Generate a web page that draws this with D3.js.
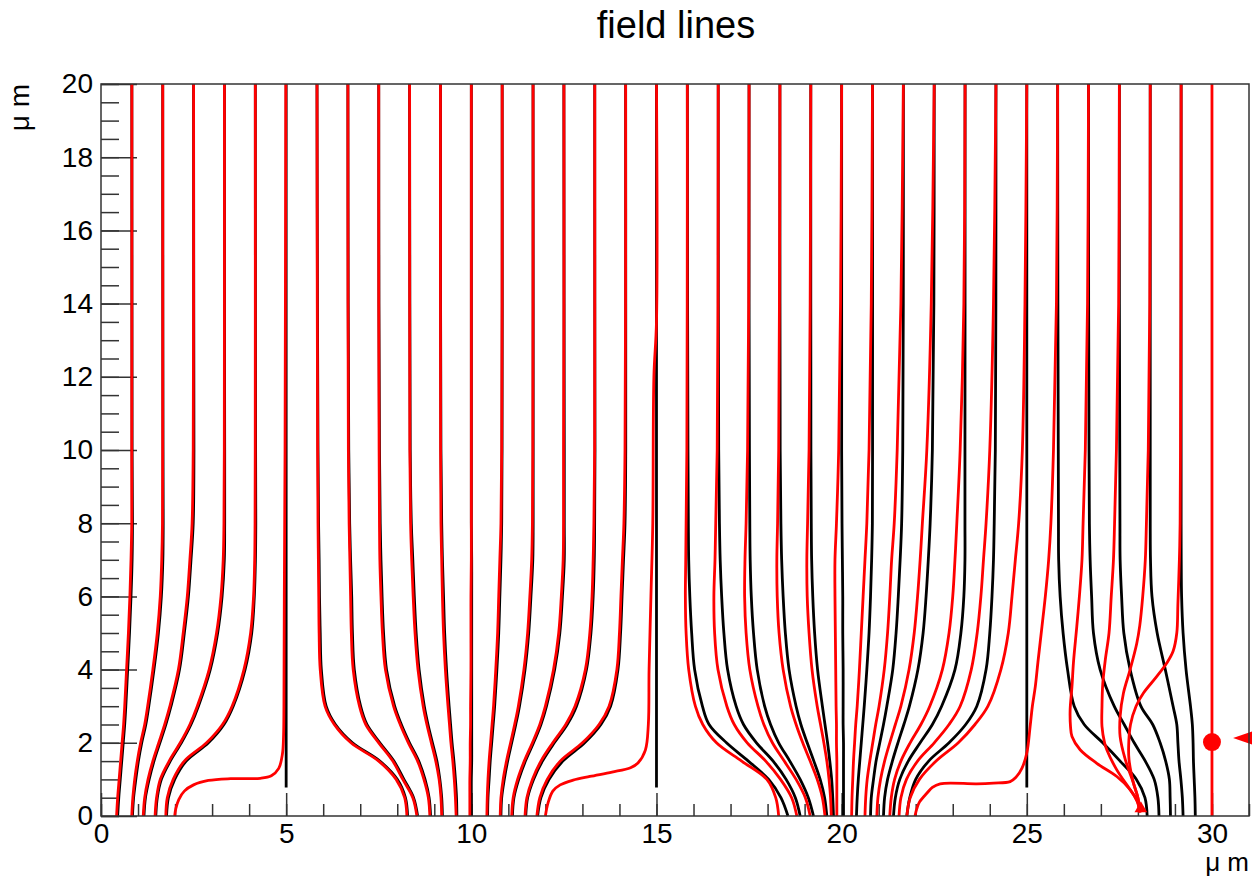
<!DOCTYPE html>
<html>
<head>
<meta charset="utf-8">
<script src="https://cdn.jsdelivr.net/npm/d3@7"></script>
<style>
  body { margin: 0; background: #fff; }
  svg { display: block; font-family: "Liberation Sans", Arial, Helvetica, sans-serif; }
</style>
</head>
<body>
<div id="vis-container"></div>
<script>
// Set dimensions and margins for the plot
const width = 1252;
const height = 878;
const margin = {left: 101, right: 3, top: 84, bottom: 62};

// tick values (um)
const xMajor = [0, 5, 10, 15, 20, 25, 30];
const xMinor = [0, 1, 2, 3, 4, 5, 6, 7, 8, 9, 10, 11, 12, 13, 14, 15, 16, 17, 18, 19, 20, 21, 22, 23, 24, 25, 26, 27, 28, 29, 30, 31];
const yMajor = [0, 2, 4, 6, 8, 10, 12, 14, 16, 18, 20];
const yMinor = [0, 0.5, 1, 1.5, 2, 2.5, 3, 3.5, 4, 4.5, 5, 5.5, 6, 6.5, 7, 7.5, 8, 8.5, 9, 9.5, 10,
                10.5, 11, 11.5, 12, 12.5, 13, 13.5, 14, 14.5, 15, 15.5, 16, 16.5, 17, 17.5, 18, 18.5, 19, 19.5, 20];

const yLevels = [20, 14, 10, 8, 7, 6, 5, 4, 3, 2.5, 2, 1.5, 1, 0.5, 0];

// black field lines: x at each yLevel
const blackX = [
  [0.833, 0.836, 0.84, 0.85, 0.84, 0.81, 0.77, 0.72, 0.67, 0.64, 0.6, 0.56, 0.52, 0.48, 0.45],
  [1.667, 1.67, 1.675, 1.68, 1.67, 1.63, 1.55, 1.43, 1.29, 1.21, 1.1, 1.01, 0.94, 0.88, 0.85],
  [2.5, 2.505, 2.51, 2.49, 2.43, 2.36, 2.25, 2.12, 1.89, 1.75, 1.59, 1.43, 1.3, 1.2, 1.16],
  [3.333, 3.335, 3.34, 3.34, 3.33, 3.27, 3.15, 2.95, 2.63, 2.43, 2.17, 1.87, 1.63, 1.52, 1.48],
  [4.167, 4.17, 4.175, 4.18, 4.17, 4.14, 4.07, 3.89, 3.57, 3.32, 2.9, 2.3, 1.99, 1.82, 1.77],
  [5.833, 5.845, 5.86, 5.875, 5.89, 5.9, 5.92, 5.95, 6.08, 6.33, 6.79, 7.53, 8.0, 8.22, 8.28],
  [6.667, 6.675, 6.69, 6.715, 6.74, 6.77, 6.79, 6.84, 7.01, 7.18, 7.53, 7.91, 8.18, 8.44, 8.55],
  [7.5, 7.505, 7.52, 7.54, 7.56, 7.59, 7.63, 7.71, 7.93, 8.11, 8.33, 8.58, 8.75, 8.86, 8.9],
  [8.333, 8.34, 8.35, 8.38, 8.42, 8.46, 8.51, 8.59, 8.73, 8.83, 8.95, 9.07, 9.15, 9.2, 9.22],
  [9.167, 9.17, 9.18, 9.2, 9.22, 9.25, 9.28, 9.33, 9.4, 9.44, 9.48, 9.53, 9.57, 9.6, 9.61],
  [10, 10, 10, 10, 10.01, 10.01, 10.01, 10.01, 10.01, 10.01, 10.01, 10.01, 10.0, 10.0, 10.0],
  [10.833, 10.835, 10.83, 10.82, 10.8, 10.77, 10.74, 10.69, 10.63, 10.59, 10.55, 10.51, 10.48, 10.45, 10.44],
  [11.667, 11.67, 11.67, 11.67, 11.66, 11.61, 11.55, 11.45, 11.3, 11.2, 11.09, 10.98, 10.89, 10.82, 10.8],
  [12.5, 12.505, 12.51, 12.51, 12.51, 12.46, 12.39, 12.25, 12.03, 11.88, 11.68, 11.46, 11.28, 11.15, 11.11],
  [13.333, 13.335, 13.34, 13.33, 13.32, 13.29, 13.23, 13.11, 12.84, 12.59, 12.24, 11.92, 11.68, 11.52, 11.47],
  [14.167, 14.17, 14.17, 14.15, 14.11, 14.07, 14.03, 13.96, 13.76, 13.5, 13.06, 12.47, 12.1, 11.88, 11.79],
  [15.833, 15.84, 15.85, 15.86, 15.87, 15.9, 15.95, 16.03, 16.24, 16.42, 16.89, 17.48, 18.03, 18.36, 18.55],
  [16.667, 16.67, 16.68, 16.7, 16.72, 16.76, 16.82, 16.92, 17.15, 17.35, 17.7, 18.15, 18.5, 18.75, 18.88],
  [17.5, 17.5, 17.51, 17.52, 17.53, 17.56, 17.62, 17.72, 17.92, 18.08, 18.3, 18.6, 18.88, 19.1, 19.24],
  [18.333, 18.335, 18.34, 18.36, 18.38, 18.42, 18.48, 18.58, 18.77, 18.9, 19.07, 19.25, 19.42, 19.54, 19.6],
  [19.167, 19.167, 19.17, 19.18, 19.19, 19.22, 19.27, 19.35, 19.48, 19.55, 19.62, 19.68, 19.73, 19.76, 19.78],
  [20, 20, 20, 20.01, 20.02, 20.03, 20.03, 20.04, 20.04, 20.04, 20.05, 20.05, 20.05, 20.05, 20.05],
  [20.833, 20.835, 20.835, 20.83, 20.81, 20.78, 20.74, 20.68, 20.61, 20.57, 20.53, 20.49, 20.45, 20.42, 20.4],
  [21.667, 21.665, 21.65, 21.62, 21.58, 21.53, 21.47, 21.38, 21.22, 21.13, 21.03, 20.93, 20.86, 20.8, 20.78],
  [22.5, 22.49, 22.45, 22.39, 22.34, 22.28, 22.2, 22.06, 21.83, 21.68, 21.52, 21.37, 21.24, 21.16, 21.13],
  [23.333, 23.333, 23.33, 23.33, 23.33, 23.3, 23.22, 23.06, 22.7, 22.45, 22.12, 21.8, 21.57, 21.45, 21.4],
  [24.167, 24.165, 24.15, 24.12, 24.1, 24.06, 24.0, 23.9, 23.65, 23.35, 22.9, 22.35, 22.0, 21.84, 21.76],
  [25.833, 25.84, 25.85, 25.855, 25.86, 25.9, 25.98, 26.1, 26.28, 26.55, 27.05, 27.52, 27.96, 28.19, 28.25],
  [26.667, 26.67, 26.68, 26.69, 26.71, 26.75, 26.8, 26.98, 27.36, 27.63, 27.9, 28.2, 28.44, 28.54, 28.57],
  [27.5, 27.5, 27.51, 27.515, 27.52, 27.56, 27.62, 27.79, 28.08, 28.4, 28.6, 28.75, 28.85, 28.87, 28.88],
  [28.333, 28.333, 28.333, 28.333, 28.34, 28.38, 28.52, 28.74, 28.95, 29.05, 29.08, 29.11, 29.16, 29.2, 29.22],
  [29.167, 29.167, 29.167, 29.167, 29.17, 29.18, 29.22, 29.3, 29.42, 29.47, 29.49, 29.5, 29.52, 29.54, 29.55]
];

// black lines that run straight down and stop above the bottom
const blackStubs = [
  [[5, 20], [5, 0.78]],
  [[15, 20], [15, 0.78]],
  [[25, 20], [25, 0.78]]
];

// red field lines: x at each yLevel
const redX = [
  [0.833, 0.833, 0.83, 0.83, 0.81, 0.78, 0.74, 0.69, 0.64, 0.61, 0.57, 0.53, 0.49, 0.45, 0.42],
  [1.667, 1.667, 1.665, 1.66, 1.64, 1.6, 1.52, 1.4, 1.26, 1.18, 1.07, 0.98, 0.91, 0.86, 0.83],
  [2.5, 2.5, 2.49, 2.46, 2.4, 2.33, 2.22, 2.09, 1.86, 1.72, 1.56, 1.4, 1.27, 1.18, 1.14],
  [3.333, 3.333, 3.33, 3.32, 3.3, 3.24, 3.12, 2.92, 2.6, 2.4, 2.14, 1.84, 1.6, 1.5, 1.46],
  [4.167, 4.167, 4.165, 4.16, 4.15, 4.12, 4.04, 3.86, 3.54, 3.28, 2.85, 2.25, 1.95, 1.79, 1.75],
  [5.833, 5.84, 5.85, 5.86, 5.87, 5.88, 5.89, 5.92, 6.05, 6.3, 6.75, 7.5, 7.97, 8.2, 8.26],
  [6.667, 6.67, 6.68, 6.7, 6.72, 6.74, 6.76, 6.81, 6.98, 7.15, 7.5, 7.88, 8.15, 8.42, 8.53],
  [7.5, 7.5, 7.51, 7.52, 7.53, 7.56, 7.6, 7.68, 7.9, 8.08, 8.3, 8.55, 8.72, 8.84, 8.88],
  [8.333, 8.335, 8.34, 8.36, 8.39, 8.43, 8.48, 8.56, 8.7, 8.8, 8.92, 9.04, 9.13, 9.18, 9.2],
  [9.167, 9.167, 9.17, 9.18, 9.2, 9.22, 9.25, 9.3, 9.37, 9.41, 9.45, 9.5, 9.54, 9.57, 9.59],
  [10, 10, 10, 10, 10, 9.99, 9.99, 9.99, 9.98, 9.98, 9.97, 9.97, 9.96, 9.96, 9.96],
  [10.833, 10.83, 10.82, 10.8, 10.77, 10.74, 10.71, 10.66, 10.6, 10.56, 10.52, 10.48, 10.45, 10.43, 10.42],
  [11.667, 11.665, 11.66, 11.65, 11.63, 11.58, 11.52, 11.42, 11.27, 11.17, 11.06, 10.95, 10.86, 10.8, 10.78],
  [12.5, 12.5, 12.49, 12.49, 12.48, 12.43, 12.36, 12.22, 12.0, 11.85, 11.65, 11.43, 11.25, 11.13, 11.09],
  [13.333, 13.333, 13.33, 13.31, 13.29, 13.26, 13.2, 13.08, 12.8, 12.55, 12.2, 11.88, 11.65, 11.5, 11.45],
  [14.167, 14.165, 14.15, 14.12, 14.08, 14.04, 14.0, 13.93, 13.72, 13.45, 13.0, 12.4, 12.05, 11.85, 11.77],
  [15.833, 15.83, 15.82, 15.8, 15.79, 15.78, 15.8, 15.87, 16.05, 16.25, 16.62, 17.3, 17.98, 18.22, 18.3],
  [16.667, 16.66, 16.64, 16.6, 16.58, 16.55, 16.57, 16.66, 16.9, 17.1, 17.45, 17.95, 18.35, 18.65, 18.79],
  [17.5, 17.49, 17.46, 17.42, 17.39, 17.38, 17.42, 17.52, 17.74, 17.9, 18.13, 18.45, 18.77, 19.02, 19.15],
  [18.333, 18.32, 18.3, 18.27, 18.25, 18.26, 18.31, 18.42, 18.62, 18.77, 18.95, 19.15, 19.34, 19.48, 19.55],
  [19.167, 19.15, 19.12, 19.08, 19.06, 19.07, 19.12, 19.2, 19.34, 19.43, 19.52, 19.6, 19.66, 19.7, 19.72],
  [20, 19.97, 19.92, 19.86, 19.82, 19.82, 19.83, 19.84, 19.85, 19.86, 19.86, 19.87, 19.87, 19.87, 19.87],
  [20.833, 20.8, 20.74, 20.68, 20.63, 20.58, 20.53, 20.48, 20.42, 20.38, 20.35, 20.32, 20.3, 20.28, 20.27],
  [21.667, 21.6, 21.5, 21.42, 21.35, 21.3, 21.24, 21.15, 21.01, 20.92, 20.84, 20.76, 20.69, 20.65, 20.63],
  [22.5, 22.42, 22.3, 22.18, 22.12, 22.05, 21.96, 21.82, 21.6, 21.45, 21.3, 21.16, 21.05, 20.98, 20.95],
  [23.333, 23.3, 23.2, 23.11, 23.06, 23.0, 22.9, 22.72, 22.38, 22.14, 21.85, 21.6, 21.43, 21.34, 21.3],
  [24.167, 24.1, 24.0, 23.9, 23.83, 23.76, 23.66, 23.5, 23.2, 22.9, 22.5, 22.05, 21.75, 21.6, 21.55],
  [25, 24.95, 24.88, 24.78, 24.69, 24.6, 24.5, 24.3, 23.95, 23.6, 23.15, 22.55, 22.1, 21.85, 21.76]
];

// red lines that bend sideways (x,y pairs, top to bottom)
const redCurves = [
  [[4.99, 20], [4.97, 10], [4.95, 6], [4.94, 3], [4.93, 2.2], [4.9, 1.7], [4.8, 1.3], [4.6, 1.1], [4.3, 1.03],
   [3.5, 1.02], [2.9, 0.97], [2.5, 0.85], [2.25, 0.68], [2.1, 0.45], [2.02, 0.2], [1.99, 0]],
  [[15, 20], [15, 13.5], [14.93, 12], [14.9, 8], [14.85, 6], [14.8, 4], [14.78, 2.5], [14.7, 1.8], [14.5, 1.45],
   [14.3, 1.32], [13.8, 1.2], [13.2, 1.08], [12.75, 0.98], [12.4, 0.85], [12.2, 0.68], [12.07, 0.35], [12.0, 0]],
  [[25.833, 20], [25.8, 14], [25.72, 10], [25.65, 8], [25.59, 7], [25.5, 6], [25.41, 5.18], [25.3, 4.2],
   [25.23, 3.54], [25.15, 3.0], [25.09, 2.45], [25.0, 1.72], [24.87, 1.31], [24.7, 1.05], [24.55, 0.94],
   [24.1, 0.9], [23.65, 0.88], [22.66, 0.88], [22.45, 0.78], [22.3, 0.62], [22.1, 0.38], [22.03, 0.2], [21.98, 0]],
  [[26.667, 20], [26.64, 14], [26.58, 10], [26.52, 8], [26.49, 7], [26.42, 6], [26.35, 5.18], [26.26, 4.2],
   [26.22, 3.54], [26.17, 2.9], [26.18, 2.45], [26.22, 2.17], [26.44, 1.81], [26.89, 1.44], [27.43, 1.08],
   [27.79, 0.72], [27.98, 0.4], [28.06, 0.1]],
  [[27.5, 20], [27.48, 14], [27.42, 10], [27.37, 8], [27.34, 7], [27.28, 6], [27.22, 5], [27.12, 4.27],
   [27.05, 3.6], [27.03, 3.0], [27.03, 2.45], [27.1, 2.0], [27.16, 1.81], [27.43, 1.26], [27.79, 0.72],
   [27.98, 0.42], [28.06, 0.1]],
  [[28.333, 20], [28.32, 14], [28.28, 10], [28.23, 8], [28.2, 7], [28.13, 6], [28.05, 5.2], [27.97, 4.72],
   [27.79, 4.0], [27.61, 3.36], [27.52, 2.72], [27.52, 2.17], [27.66, 1.54], [27.88, 0.9], [28.0, 0.5], [28.06, 0.1]],
  [[29.167, 20], [29.16, 14], [29.15, 10], [29.14, 8], [29.12, 7], [29.08, 5.8], [29.05, 5.0], [28.95, 4.5],
   [28.78, 4.18], [28.5, 3.8], [28.15, 3.36], [27.95, 3.0], [27.8, 2.5], [27.75, 1.9], [27.76, 1.54],
   [27.88, 0.9], [28.0, 0.5], [28.06, 0.1]],
  [[30, 20], [30, 0]]
];

// red markers: dot on the x=30 line, arrow head at the right edge, end point of the red lines
const dotPoint = [30, 2.02];
const arrowPoint = [30.57, 2.13];
const endPoint = [28.08, 0.2];

const svg = d3.select("#vis-container")
  .append("svg")
  .attr("width", width)
  .attr("height", height)
  .attr("viewBox", [0, 0, width, height]);

const x = d3.scaleLinear()
  .domain([0, 31])
  .range([margin.left, width - margin.right]);

const y = d3.scaleLinear()
  .domain([0, 20])
  .range([height - margin.bottom, margin.top]);

const line = d3.line()
  .x(d => x(d[0]))
  .y(d => y(d[1]))
  .curve(d3.curveCatmullRom.alpha(0.5));

const toPoints = xs => xs.map((v, i) => [v, yLevels[i]]);

// minor ticks
svg.append("g")
  .attr("transform", `translate(0,${y(0)})`)
  .call(d3.axisBottom(x).tickValues(xMinor).tickSize(-12).tickSizeOuter(0).tickFormat(""))
  .call(g => g.select(".domain").remove());

svg.append("g")
  .attr("transform", `translate(${x(0)},0)`)
  .call(d3.axisLeft(y).tickValues(yMinor).tickSize(-18).tickSizeOuter(0).tickFormat(""))
  .call(g => g.select(".domain").remove());

// major ticks + labels
svg.append("g")
  .attr("transform", `translate(0,${y(0)})`)
  .call(d3.axisBottom(x).tickValues(xMajor).tickSize(-23).tickSizeOuter(0).tickPadding(7))
  .attr("font-size", 28)
  .attr("font-family", null)
  .call(g => g.select(".domain").remove());

svg.append("g")
  .attr("transform", `translate(${x(0)},0)`)
  .call(d3.axisLeft(y).tickValues(yMajor).tickSize(-36).tickSizeOuter(0).tickPadding(8))
  .attr("font-size", 28)
  .attr("font-family", null)
  .call(g => g.select(".domain").remove());

svg.selectAll(".tick line").attr("stroke", "#333").attr("stroke-width", 1.5);
svg.selectAll(".tick text").attr("fill", "#000");

// field lines: black first, red on top
const lines = svg.append("g")
  .attr("fill", "none")
  .attr("stroke-width", 2.8)
  .attr("stroke-linejoin", "round");

lines.selectAll(".black")
  .data(blackX.map(toPoints).concat(blackStubs))
  .enter()
  .append("path")
  .attr("class", "black")
  .attr("stroke", "#000")
  .attr("d", line);

lines.selectAll(".red")
  .data(redX.map(toPoints).concat(redCurves))
  .enter()
  .append("path")
  .attr("class", "red")
  .attr("stroke", "#ff0000")
  .attr("d", line);

// markers
svg.append("circle")
  .attr("cx", x(dotPoint[0]))
  .attr("cy", y(dotPoint[1]))
  .attr("r", 9)
  .attr("fill", "#ff0000");

svg.append("path")
  .attr("d", d3.symbol(d3.symbolTriangle, 70))
  .attr("transform", `translate(${x(endPoint[0])},${y(endPoint[1])})`)
  .attr("fill", "#ff0000");

svg.append("path")
  .attr("d", "M0,0 L26,-9 L26,9 Z")
  .attr("transform", `translate(${x(arrowPoint[0])},${y(arrowPoint[1])})`)
  .attr("fill", "#ff0000");

// frame
svg.append("rect")
  .attr("x", x(0))
  .attr("y", y(20))
  .attr("width", x(31) - x(0))
  .attr("height", y(0) - y(20))
  .attr("fill", "none")
  .attr("stroke", "#333")
  .attr("stroke-width", 1.5);

// title and axis titles
svg.append("text")
  .attr("x", width / 2 + 50)
  .attr("y", 38)
  .attr("text-anchor", "middle")
  .attr("font-size", 38)
  .text("field lines");

svg.append("text")
  .attr("x", x(31))
  .attr("y", 871)
  .attr("text-anchor", "end")
  .attr("font-size", 26)
  .text("μ m");

svg.append("text")
  .attr("transform", `translate(29,${y(20)}) rotate(-90)`)
  .attr("text-anchor", "end")
  .attr("font-size", 28)
  .text("μ m");
</script>
</body>
</html>
